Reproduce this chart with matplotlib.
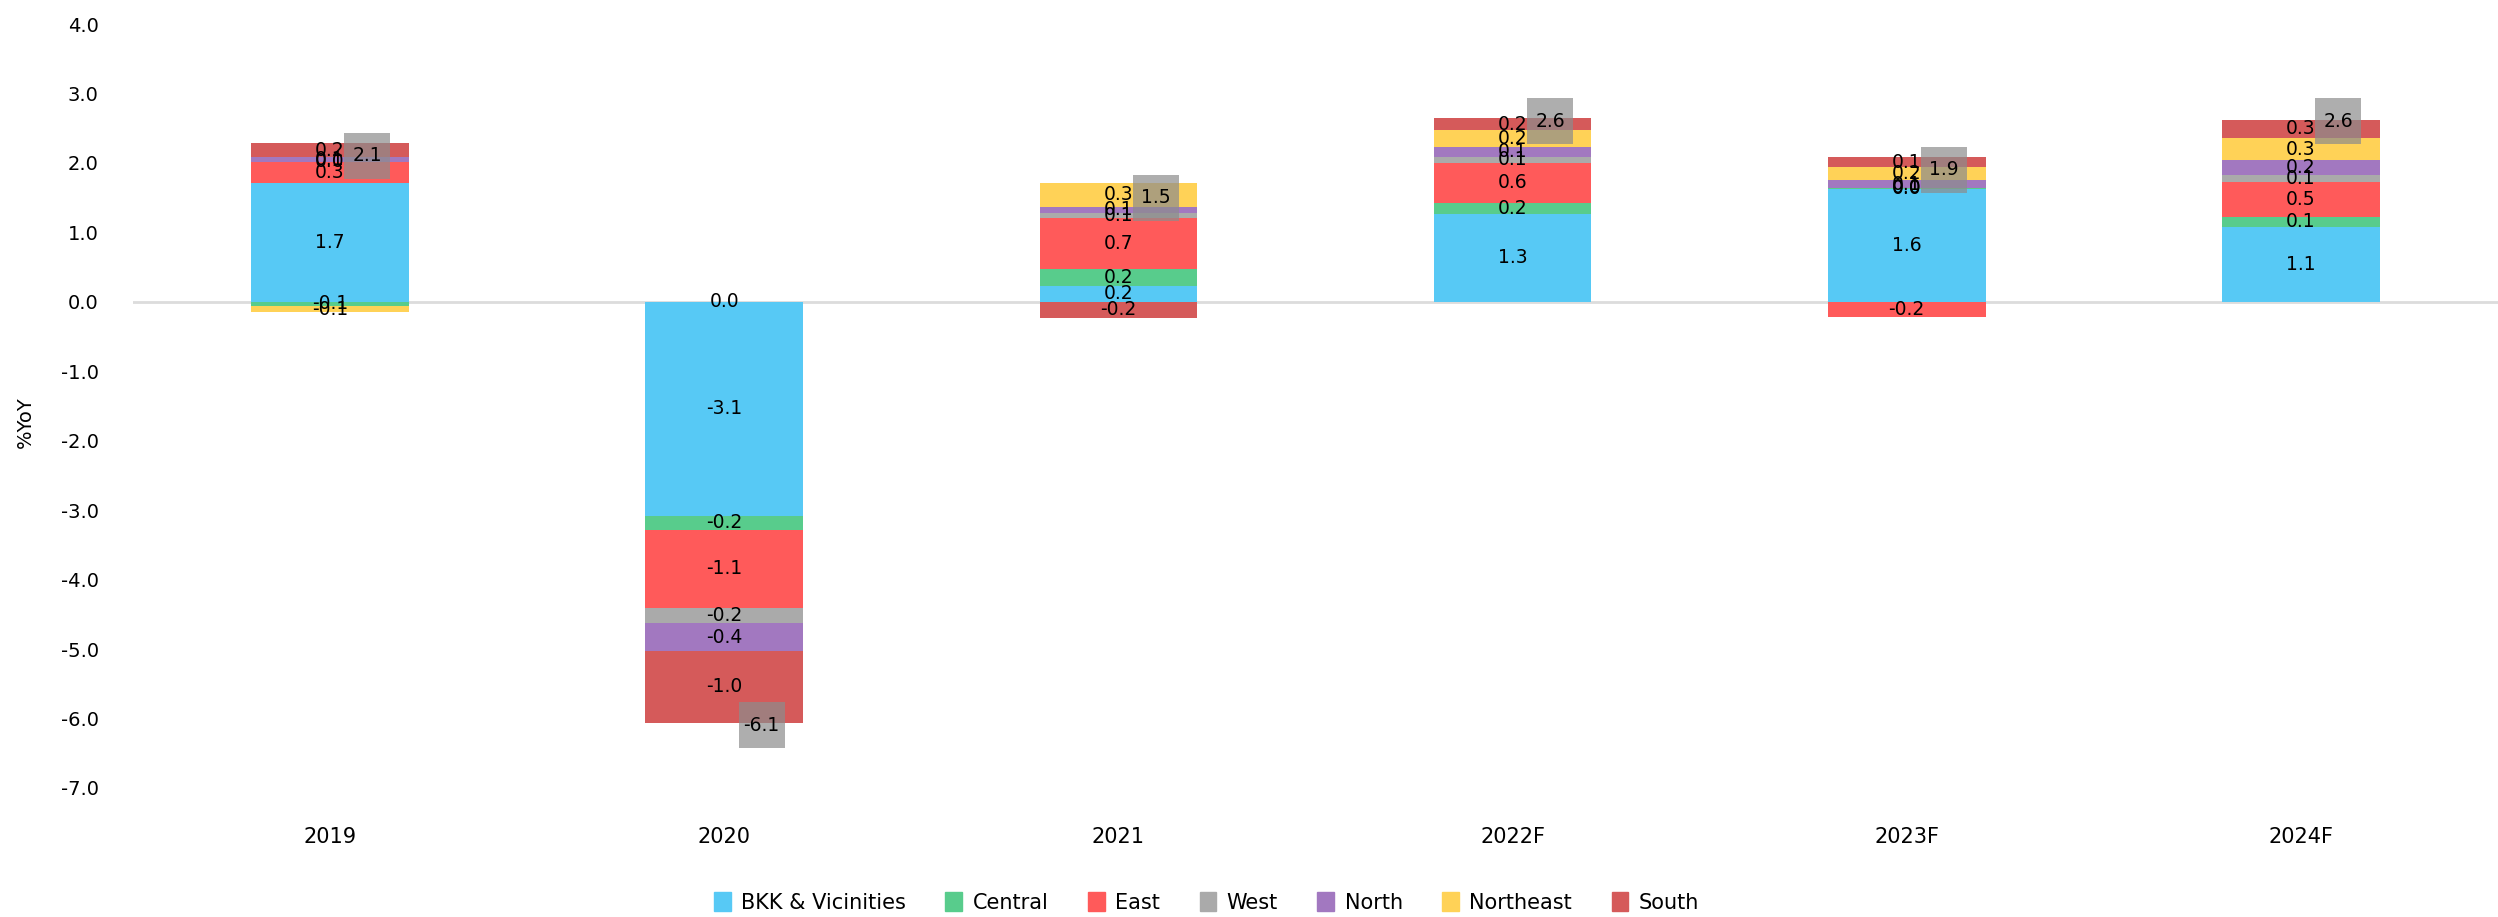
import matplotlib.pyplot as plt
import numpy as np

# Data: contribution to growth (%YoY) by region
years = ['2019', '2020', '2021', '2022F', '2023F', '2024F']
regions = ['BKK & Vicinities', 'Central', 'East', 'West', 'North', 'Northeast', 'South']

bkk = [1.71, -3.08, 0.23, 1.27, 1.63, 1.08]
central = [-0.06, -0.20, 0.24, 0.16, 0.01, 0.14]
east = [0.31, -1.13, 0.74, 0.57, -0.22, 0.50]
west = [0.00, -0.22, 0.07, 0.09, 0.00, 0.11]
north = [0.06, -0.40, 0.09, 0.14, 0.11, 0.21]
northeast = [-0.09, 0.00, 0.34, 0.24, 0.19, 0.32]
south = [0.20, -1.03, -0.23, 0.17, 0.14, 0.26]
total = [2.1, -6.1, 1.5, 2.6, 1.9, 2.6]

series = [bkk, central, east, west, north, northeast, south]
colors = ['#57c9f5', '#58cc8c', '#ff5a5a', '#aaaaaa', '#a278c0', '#ffd257', '#d55a5a']

fig = plt.figure(figsize=(24.98, 9.17), dpi=100)
ax = fig.add_axes([0.0532, 0.1407, 0.9468, 0.8331])

x = np.arange(len(years))
width = 0.40
pos_base = np.zeros(len(years))
neg_base = np.zeros(len(years))

for name, vals, col in zip(regions, series, colors):
    vals = np.array(vals)
    bottoms = np.where(vals >= 0, pos_base, neg_base)
    ax.bar(x, vals, width, bottom=bottoms, color=col, label=name, linewidth=0)
    for xi, b, v in zip(x, bottoms, vals):
        txt = f'{v:.1f}'
        if txt == '-0.0':
            txt = '0.0'
        ax.text(xi, b + v / 2, txt, ha='center', va='center', fontsize=13.5, color='black')
    pos_base = pos_base + np.where(vals >= 0, vals, 0)
    neg_base = neg_base + np.where(vals < 0, vals, 0)

# total markers
ax.scatter(x + 0.095, total, marker='s', s=1050, color='#8c8c8c', alpha=0.7,
           linewidths=0, zorder=3)
for xi, t in zip(x, total):
    ax.text(xi + 0.095, t, f'{t:.1f}', ha='center', va='center', fontsize=13.5,
            color='black', zorder=4)

ax.axhline(0, color='#dcdcdc', linewidth=2, zorder=0)
ax.set_xlim(-0.5, len(years) - 0.5)
ax.set_ylim(-7, 4)
ax.set_yticks(np.arange(-7, 5, 1))
ax.set_yticklabels([f'{v:.1f}' for v in np.arange(-7, 5, 1)], fontsize=14)
ax.set_xticks(x)
ax.set_xticklabels(years, fontsize=15)
ax.tick_params(axis='y', length=0, pad=24.5)
ax.tick_params(axis='x', length=0, pad=28)
for sp in ax.spines.values():
    sp.set_visible(False)

fig.text(0.010, 0.54, '%YoY', rotation=90, ha='center', va='center', fontsize=14)

handles = [plt.Rectangle((0, 0), 1, 1, color=c) for c in colors]
fig.legend(handles, regions, loc='center', bbox_to_anchor=(0.483, 0.016), ncol=7,
           frameon=False, fontsize=15, handlelength=0.8, handleheight=1.0,
           handletextpad=0.5, columnspacing=1.9)

fig.savefig('out.png', dpi=100)
